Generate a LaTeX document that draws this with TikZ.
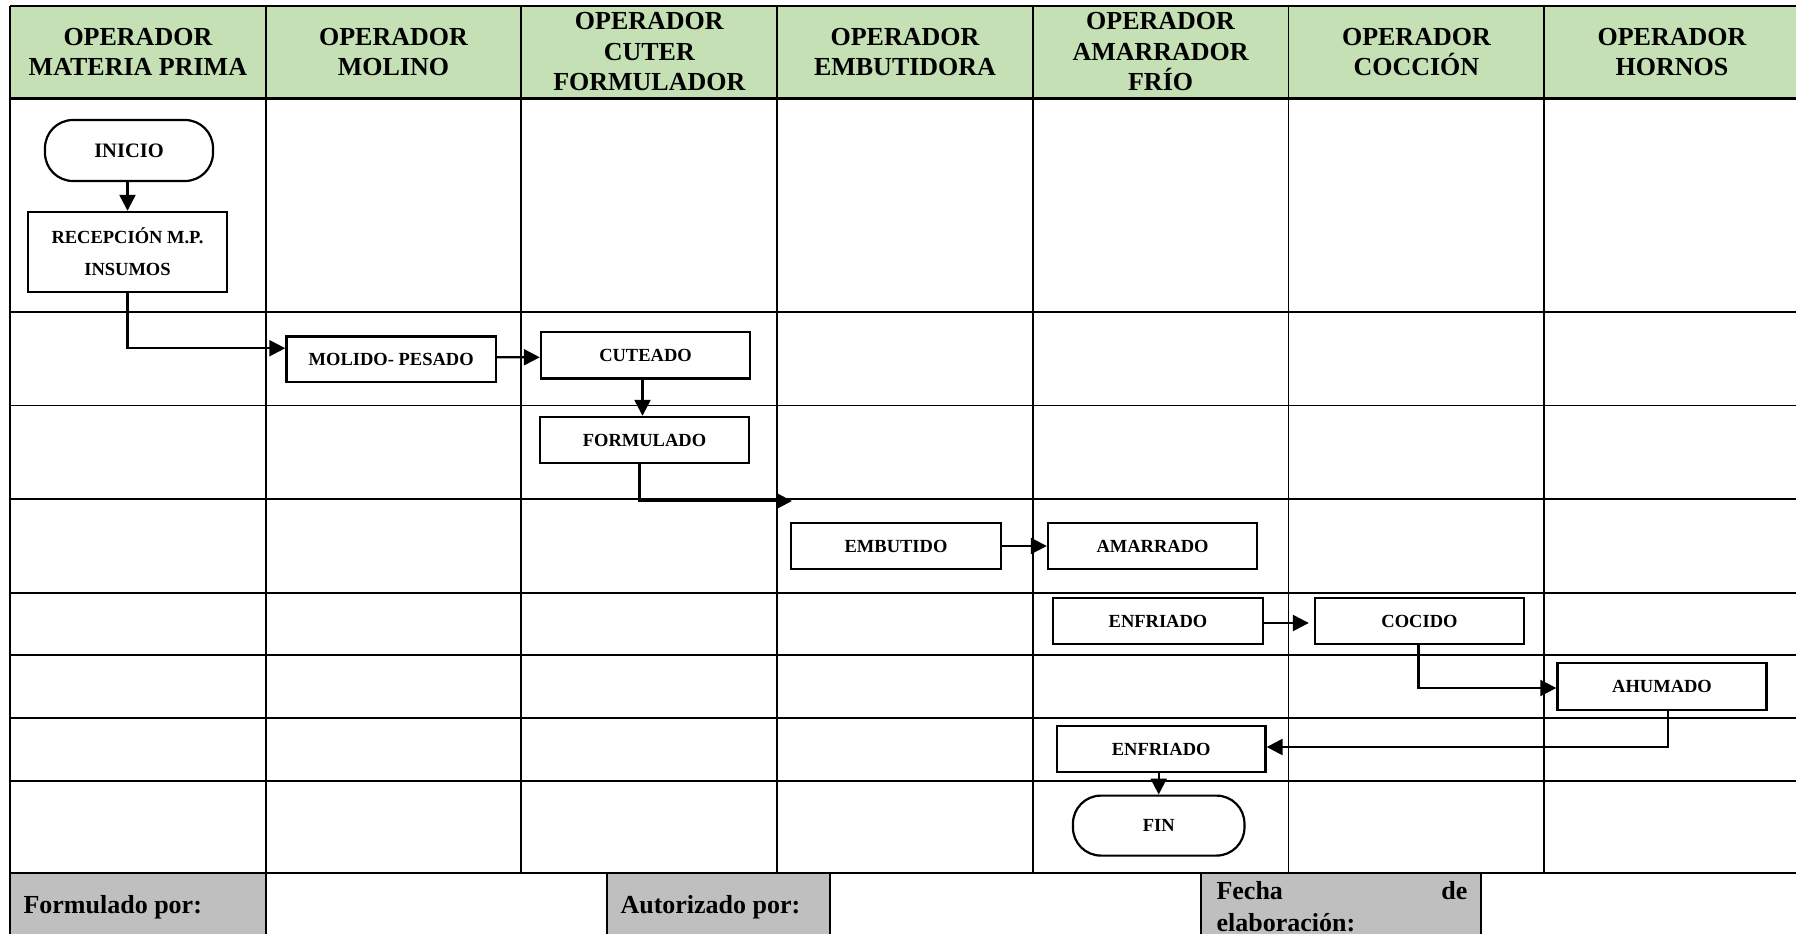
\documentclass[tikz,border=0pt]{standalone}
\usepackage{fontspec}
\setmainfont{Liberation Serif}
\usetikzlibrary{arrows.meta}
\definecolor{headgreen}{HTML}{C5E0B4}
\definecolor{footgray}{HTML}{BFBFBF}
\tikzset{
  gridline/.style={line width=1.9pt},
  boldline/.style={line width=2.4pt},
  headtxt/.style={font=\fontsize{26}{30.5}\selectfont\bfseries, align=center},
  foottxt/.style={font=\fontsize{26}{31}\selectfont\bfseries, anchor=west},
  procbox/.style={draw, line width=2.4pt, rectangle, minimum width=209pt, minimum height=46pt,
    inner sep=0pt, font=\fontsize{18.5}{32}\selectfont\bfseries, align=center},
  termbox/.style={draw, line width=2.2pt, rectangle, rounded corners=28pt, inner sep=0pt,
    font=\fontsize{20.5}{22}\selectfont\bfseries},
  flow/.style={line width=2.4pt, -{Triangle[length=16pt,width=16pt]}},
}
\begin{document}
\begin{tikzpicture}[x=1pt, y=-1pt]
\useasboundingbox (0,0) rectangle (1796,934);
\fill[white] (0,0) rectangle (1796,934);

% header band and footer shading
\fill[headgreen] (10,6) rectangle (1800,98.5);
\fill[footgray] (10,873) rectangle (265.7,940);
\fill[footgray] (607,873) rectangle (830,940);
\fill[footgray] (1201,873) rectangle (1481,940);

% lane grid
\foreach \yy in {312,405.5,499,593,655,718,781}
  \draw[gridline] (10,\yy) -- (1800,\yy);
\foreach \xx in {265.7,521.4,777,1032.8,1288.5,1544.2}
  \draw[gridline] (\xx,6) -- (\xx,873);
\draw[boldline] (10,6) -- (1800,6);
\draw[boldline] (10,98.5) -- (1800,98.5);
\draw[boldline] (10,873) -- (1800,873);
\draw[gridline] (10,6) -- (10,940);
% footer cell borders
\foreach \xx in {265.7,607,830,1201,1481}
  \draw[gridline] (\xx,873) -- (\xx,940);

% lane titles
\node[headtxt] (h1) at (137.9,52) {OPERADOR\\MATERIA PRIMA};
\node[headtxt] (h2) at (393.5,52) {OPERADOR\\MOLINO};
\node[headtxt] (h3) at (649.3,52) {OPERADOR\\CUTER\\FORMULADOR};
\node[headtxt] (h4) at (905,52) {OPERADOR\\EMBUTIDORA};
\node[headtxt] (h5) at (1160.6,52) {OPERADOR\\AMARRADOR\\FRÍO};
\node[headtxt] (h6) at (1416.4,52) {OPERADOR\\COCCIÓN};
\node[headtxt] (h7) at (1672,52) {OPERADOR\\HORNOS};

% footer labels
\node[foottxt] (f1) at (20,907) {Formulado por:};
\node[foottxt] (f2) at (617,907) {Autorizado por:};
\node[font=\fontsize{26}{31}\selectfont\bfseries, anchor=west] (f3a) at (1213,891) {Fecha};
\node[font=\fontsize{26}{31}\selectfont\bfseries, anchor=east] (f3b) at (1471,891) {de};
\node[foottxt] (f3c) at (1213,922.5) {elaboración:};

% process steps
\node[termbox, minimum width=168pt, minimum height=61pt] (inicio) at (129,150.5) {INICIO};
\node[procbox, minimum width=199pt, minimum height=80pt] (recep) at (127.5,252) {RECEPCIÓN M.P.\\INSUMOS};
\node[procbox, minimum width=209.5pt, minimum height=45.5pt] (molido) at (391.2,359.2) {MOLIDO- PESADO};
\node[procbox, minimum height=46.7pt] (cuteado) at (645.5,355.3) {CUTEADO};
\node[procbox] (formulado) at (644.5,440) {FORMULADO};
\node[procbox, minimum width=210pt] (embutido) at (896,546) {EMBUTIDO};
\node[procbox] (amarrado) at (1152.5,546) {AMARRADO};
\node[procbox, minimum width=210pt] (enfriadoa) at (1158,621) {ENFRIADO};
\node[procbox] (cocido) at (1419.5,621) {COCIDO};
\node[procbox, minimum height=47pt] (ahumado) at (1662,686.5) {AHUMADO};
\node[procbox, minimum width=208.5pt] (enfriadob) at (1161.2,749) {ENFRIADO};
\node[termbox, minimum width=171.5pt, minimum height=60pt, font=\fontsize{18.5}{22}\selectfont\bfseries] (fin) at (1158.7,825.6) {FIN};

\coordinate (embtip) at (792,501);

% connectors
\draw[flow] (recep.north |- inicio.south) -- (recep.north);
\draw[flow] (recep.south) |- ([yshift=11pt]molido.west);
\draw[flow] ([yshift=2pt]molido.east) -- ([yshift=-2pt]cuteado.west);
\draw[flow] ([xshift=-3pt]cuteado.south) -- ([xshift=-2pt]formulado.north);
\draw[flow] ([xshift=-5pt]formulado.south) |- (embtip);
\draw[flow] (embutido.east) -- (amarrado.west);
\draw[flow, shorten >=5pt] ([yshift=-2pt]enfriadoa.east) -- ([yshift=-2pt]cocido.west);
\draw[flow] ([xshift=-1pt]cocido.south) |- ([yshift=-1.5pt]ahumado.west);
\draw[flow] ([xshift=6pt]ahumado.south) |- ([yshift=2pt]enfriadob.east);
\draw[flow] (fin.north |- enfriadob.south) -- (fin.north);
\end{tikzpicture}
\end{document}
